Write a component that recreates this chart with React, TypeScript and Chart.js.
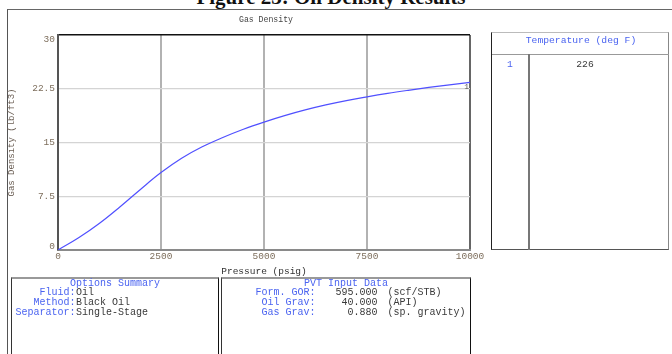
import React, { useEffect, useRef } from "react";
import { Chart, registerables } from "chart.js";
Chart.register(...registerables);

// ---- data ----
const pressure = [0, 500, 1000, 1500, 2000, 2500, 3000, 3500, 4000, 4500, 5000, 5500, 6000, 6500, 7000, 7500, 8000, 8500, 9000, 9500, 10000];
const density = [0, 1.7, 3.7, 6.0, 8.45, 10.8, 12.8, 14.4, 15.7, 16.85, 17.85, 18.75, 19.55, 20.25, 20.85, 21.37, 21.85, 22.28, 22.68, 23.05, 23.4];
const xTickValues = [0, 2500, 5000, 7500, 10000];
const yTickValues = [0, 7.5, 15, 22.5, 30];
const seriesLabel = "1";
const temperatures = [{ idx: "1", value: "226" }];
const optionRows = [
  ["Fluid:", "Oil"],
  ["Method:", "Black Oil"],
  ["Separator:", "Single-Stage"],
];
const pvtRows = [
  ["Form. GOR:", "595.000", "(scf/STB)"],
  ["Oil Grav:", "40.000", "(API)"],
  ["Gas Grav:", "0.880", "(sp. gravity)"],
];

const MONO = '"Liberation Mono", "DejaVu Sans Mono", monospace';
const BLUE = "#4a63f0";
const GREY_TXT = "#3a3a3a";
const TICK_COLOR = "#7d6e5c";

const clampPlugin = {
  id: "clampY",
  beforeDraw(chart: any) {
    try {
      const s: any = chart.scales.y;
      const items = s.getLabelItems(chart.chartArea);
      if (items && !items._clamped && items.length > 1) {
        items[0].options.translation[1] -= 4;
        items[items.length - 1].options.translation[1] += 4;
        items._clamped = true;
      }
    } catch (e) {}
  },
  afterDatasetsDraw(chart: any) {
    const meta = chart.getDatasetMeta(0);
    const last = meta.data[meta.data.length - 1];
    if (!last) return;
    const ctx = chart.ctx;
    ctx.save();
    ctx.font = "8px " + MONO;
    ctx.fillStyle = "#555";
    ctx.textAlign = "right";
    ctx.textBaseline = "top";
    ctx.fillText(seriesLabel, last.x - 1, last.y + 1);
    ctx.restore();
  },
};

function ChartCanvas() {
  const ref = useRef<HTMLCanvasElement>(null);
  useEffect(() => {
    if (!ref.current) return;
    const chart = new Chart(ref.current, {
      type: "scatter",
      data: {
        datasets: [
          {
            data: pressure.map((p, i) => ({ x: p, y: density[i] })),
            showLine: true,
            borderColor: "#5050ff",
            borderWidth: 1.2,
            pointRadius: 0,
            tension: 0.4,
          } as any,
        ],
      },
      plugins: [clampPlugin],
      options: {
        animation: false,
        responsive: false,
        devicePixelRatio: 1,
        layout: { padding: { left: 0, top: 35, right: 202, bottom: 74 } },
        plugins: { legend: { display: false }, tooltip: { enabled: false }, title: { display: false } },
        scales: {
          x: {
            type: "linear",
            min: 0,
            max: 10000,
            afterFit: (s: any) => { s.height = 30; },
            afterBuildTicks: (s: any) => { s.ticks = xTickValues.map((v) => ({ value: v })); },
            ticks: {
              padding: 1,
              color: TICK_COLOR,
              font: { family: MONO, size: 9.5 },
              callback: (v: any) => String(v),
              maxRotation: 0,
            },
            grid: {
              drawTicks: false,
              color: (c: any) => (c.tick && c.tick.value === 10000 ? "#666" : "#b2b2b2"),
              lineWidth: 2,
            },
            border: { color: "#8a8a8a", width: 2 },
            title: {
              display: true,
              text: "Pressure (psig)",
              color: "#333",
              font: { family: MONO, size: 9.5 },
              padding: { top: 0, bottom: 3 },
            },
          },
          y: {
            type: "linear",
            min: 0,
            max: 30,
            afterFit: (s: any) => { s.width = 58; },
            afterBuildTicks: (s: any) => { s.ticks = yTickValues.map((v) => ({ value: v })); },
            ticks: {
              padding: 3,
              color: TICK_COLOR,
              font: { family: MONO, size: 9.5 },
              callback: (v: any) => String(v),
            },
            grid: {
              drawTicks: false,
              color: (c: any) => (c.tick && c.tick.value === 30 ? "#111" : "#d4d4d4"),
              lineWidth: (c: any) => (c.tick && c.tick.value === 30 ? 1.5 : 1.2),
            },
            border: { color: "#555", width: 2 },
            title: {
              display: true,
              text: "Gas Density (lb/ft3)",
              color: "#6b5f55",
              font: { family: MONO, size: 9 },
              padding: { top: 6, bottom: 0 },
            },
          },
        },
      } as any,
    });
    return () => chart.destroy();
  }, []);
  return (
    <canvas
      ref={ref}
      width={672}
      height={354}
      style={{ position: "absolute", left: 0, top: 0, width: 672, height: 354, display: "block" }}
    />
  );
}

const txt = (extra: React.CSSProperties): React.CSSProperties => ({
  position: "absolute",
  fontFamily: MONO,
  fontSize: 10,
  lineHeight: "10px",
  whiteSpace: "pre",
  ...extra,
});

export default function App() {
  return (
    <div
      style={{
        position: "fixed",
        left: 0,
        top: 0,
        width: 672,
        height: 354,
        overflow: "hidden",
        background: "#fff",
      }}
    >
      {/* caption, cut off at the top */}
      <div
        style={{
          position: "absolute",
          left: 0,
          width: 662,
          top: -13,
          textAlign: "center",
          fontFamily: '"Liberation Serif", "Times New Roman", serif',
          fontWeight: "bold",
          fontSize: 21,
          lineHeight: "21px",
          color: "#111",
        }}
      >
        Figure 23: Oil Density Results
      </div>
      {/* outer frame */}
      <div style={{ position: "absolute", left: 7, top: 9, width: 670, height: 360, borderTop: "1.5px solid #666", borderLeft: "1.5px solid #555" }} />
      <ChartCanvas />
      {/* chart title */}
      <div style={txt({ left: 164, width: 204, top: 14.5, textAlign: "center", fontSize: 8.2, color: "#444" })}>Gas Density</div>

      {/* temperature table */}
      <div
        style={{
          position: "absolute",
          left: 491,
          top: 32,
          width: 178,
          height: 218,
          borderTop: "1px solid #bbb",
          borderLeft: "1.5px solid #222",
          borderRight: "1px solid #888",
          borderBottom: "1.5px solid #555",
          boxSizing: "border-box",
        }}
      />
      <div style={{ position: "absolute", left: 492, top: 54, width: 177, height: 1, background: "#999" }} />
      <div style={{ position: "absolute", left: 528, top: 54, width: 2, height: 196, background: "#777" }} />
      <div style={txt({ left: 492, width: 178, top: 35.5, textAlign: "center", color: BLUE, fontSize: 9.7 })}>Temperature (deg F)</div>
      {temperatures.map((t, i) => (
        <React.Fragment key={i}>
          <div style={txt({ left: 492, width: 36, top: 59.5 + i * 10, textAlign: "center", color: BLUE, fontSize: 9.7 })}>{t.idx}</div>
          <div style={txt({ left: 530, width: 110, top: 59.5 + i * 10, textAlign: "center", color: GREY_TXT, fontSize: 9.7 })}>{t.value}</div>
        </React.Fragment>
      ))}

      {/* options summary */}
      <div
        style={{
          position: "absolute",
          left: 11,
          top: 277,
          width: 208,
          height: 90,
          borderTop: "2px solid #999",
          borderLeft: "1.5px solid #333",
          borderRight: "1.5px solid #111",
          boxSizing: "border-box",
        }}
      />
      <div style={txt({ left: 12, width: 206, top: 278.5, textAlign: "center", color: BLUE })}>Options Summary</div>
      {optionRows.map((r, i) => (
        <React.Fragment key={i}>
          <div style={txt({ left: 0, width: 75.5, top: 288 + i * 10, textAlign: "right", color: BLUE })}>{r[0]}</div>
          <div style={txt({ left: 76, top: 288 + i * 10, color: GREY_TXT })}>{r[1]}</div>
        </React.Fragment>
      ))}

      {/* PVT input data */}
      <div
        style={{
          position: "absolute",
          left: 221,
          top: 277,
          width: 250,
          height: 90,
          borderTop: "2px solid #999",
          borderLeft: "1.5px solid #333",
          borderRight: "1.5px solid #111",
          boxSizing: "border-box",
        }}
      />
      <div style={txt({ left: 222, width: 248, top: 278.5, textAlign: "center", color: BLUE })}>PVT Input Data</div>
      {pvtRows.map((r, i) => (
        <React.Fragment key={i}>
          <div style={txt({ left: 222, width: 93.5, top: 288 + i * 10, textAlign: "right", color: BLUE })}>{r[0]}</div>
          <div style={txt({ left: 320, width: 57.5, top: 288 + i * 10, textAlign: "right", color: GREY_TXT })}>{r[1]}</div>
          <div style={txt({ left: 387.5, top: 288 + i * 10, color: GREY_TXT })}>{r[2]}</div>
        </React.Fragment>
      ))}
    </div>
  );
}
